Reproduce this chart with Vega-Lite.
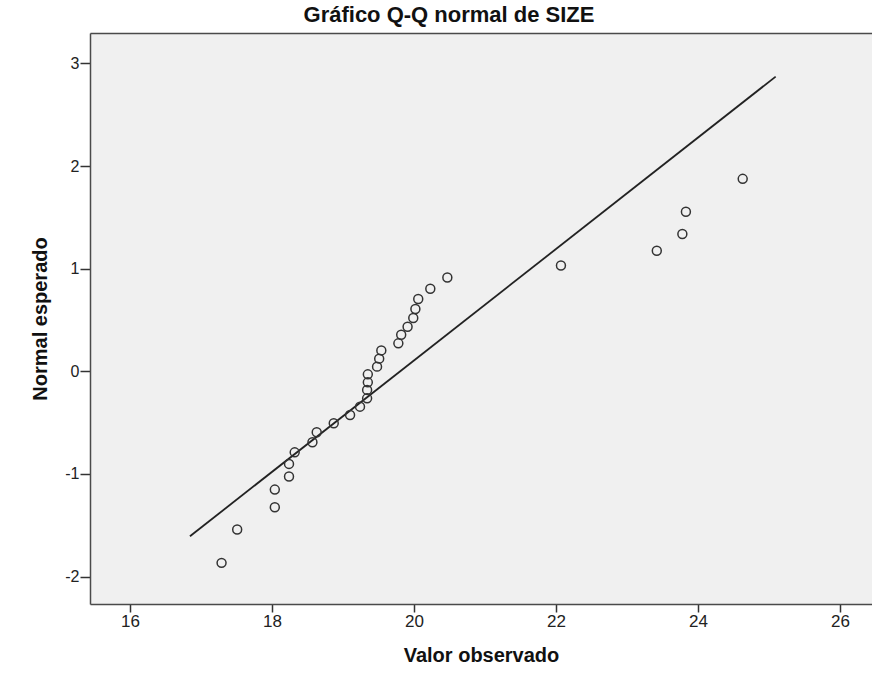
{
  "$schema": "https://vega.github.io/schema/vega-lite/v6.json",
  "autosize": {"type": "none"},
  "padding": {"left": 90, "top": 33, "right": 0, "bottom": 83},
  "width": 782,
  "height": 571,
  "background": "white",
  "title": {
    "text": "Gráfico Q-Q normal de SIZE",
    "font": "Liberation Sans",
    "fontSize": 22,
    "fontWeight": "bold",
    "color": "#111111",
    "dx": -32,
    "offset": 6
  },
  "config": {
    "view": {"fill": "#F0F0F0", "stroke": null},
    "font": "Liberation Sans"
  },
  "datasets": {
    "points": [
      {"observed": 17.29, "expected": -1.866},
      {"observed": 17.51, "expected": -1.541},
      {"observed": 18.04, "expected": -1.324},
      {"observed": 18.04, "expected": -1.152},
      {"observed": 18.24, "expected": -1.025},
      {"observed": 18.24, "expected": -0.902},
      {"observed": 18.32, "expected": -0.789},
      {"observed": 18.57, "expected": -0.691},
      {"observed": 18.63, "expected": -0.594},
      {"observed": 18.87, "expected": -0.506},
      {"observed": 19.10, "expected": -0.425},
      {"observed": 19.24, "expected": -0.344},
      {"observed": 19.34, "expected": -0.263},
      {"observed": 19.34, "expected": -0.181},
      {"observed": 19.35, "expected": -0.107},
      {"observed": 19.35, "expected": -0.029},
      {"observed": 19.48, "expected": 0.046},
      {"observed": 19.51, "expected": 0.124},
      {"observed": 19.54, "expected": 0.204},
      {"observed": 19.78, "expected": 0.273},
      {"observed": 19.82, "expected": 0.357},
      {"observed": 19.91, "expected": 0.435},
      {"observed": 19.99, "expected": 0.520},
      {"observed": 20.02, "expected": 0.608},
      {"observed": 20.06, "expected": 0.705},
      {"observed": 20.23, "expected": 0.805},
      {"observed": 20.47, "expected": 0.915},
      {"observed": 22.07, "expected": 1.032},
      {"observed": 23.42, "expected": 1.175},
      {"observed": 23.78, "expected": 1.338},
      {"observed": 23.83, "expected": 1.555},
      {"observed": 24.63, "expected": 1.876}
    ],
    "refline": [
      {"observed": 16.845, "expected": -1.607},
      {"observed": 25.094, "expected": 2.872}
    ]
  },
  "encoding": {
    "y": {
      "field": "expected",
      "type": "quantitative",
      "scale": {"domain": [-2.267, 3.297], "nice": false, "zero": false},
      "axis": {
        "orient": "left",
        "values": [-2, -1, 0, 1, 2, 3],
        "labelExpr": "datum.value < 0 ? '-' + abs(datum.value) : '' + datum.value",
        "grid": false,
        "tickSize": 10,
        "tickColor": "#333333",
        "tickWidth": 1.5,
        "labelPadding": 1,
        "labelFontSize": 16,
        "labelColor": "#222222",
        "domainColor": "#4a4a4a",
        "domainWidth": 1.5,
        "title": "Normal esperado",
        "titleFontSize": 20,
        "titleFontWeight": "bold",
        "titleColor": "#111111",
        "titlePadding": 14
      }
    }
  },
  "layer": [
    {
      "data": {"name": "refline"},
      "mark": {"type": "line", "color": "#222222", "strokeWidth": 1.8},
      "encoding": {
        "x": {
          "field": "observed",
          "type": "quantitative",
          "scale": {"domain": [15.437, 26.451], "nice": false, "zero": false},
          "axis": {
            "orient": "top",
            "labels": false,
            "ticks": false,
            "grid": false,
            "title": null,
            "domain": true,
            "domainColor": "#4a4a4a",
            "domainWidth": 1.5
          }
        }
      }
    },
    {
      "data": {"name": "points"},
      "mark": {
        "type": "point",
        "shape": "circle",
        "filled": false,
        "size": 80,
        "stroke": "#333333",
        "strokeWidth": 1.5,
        "opacity": 1
      },
      "encoding": {
        "x": {
          "field": "observed",
          "type": "quantitative",
          "axis": {
            "orient": "bottom",
            "values": [16, 18, 20, 22, 24, 26],
            "format": "d",
            "grid": false,
            "tickSize": 8,
            "tickColor": "#333333",
            "tickWidth": 1.5,
            "labelPadding": 1,
            "labelFontSize": 17,
            "labelColor": "#222222",
            "domainColor": "#4a4a4a",
            "domainWidth": 1.5,
            "title": "Valor observado",
            "titleFontSize": 20,
            "titleFontWeight": "bold",
            "titleColor": "#111111",
            "titlePadding": 16
          }
        }
      }
    }
  ]
}
